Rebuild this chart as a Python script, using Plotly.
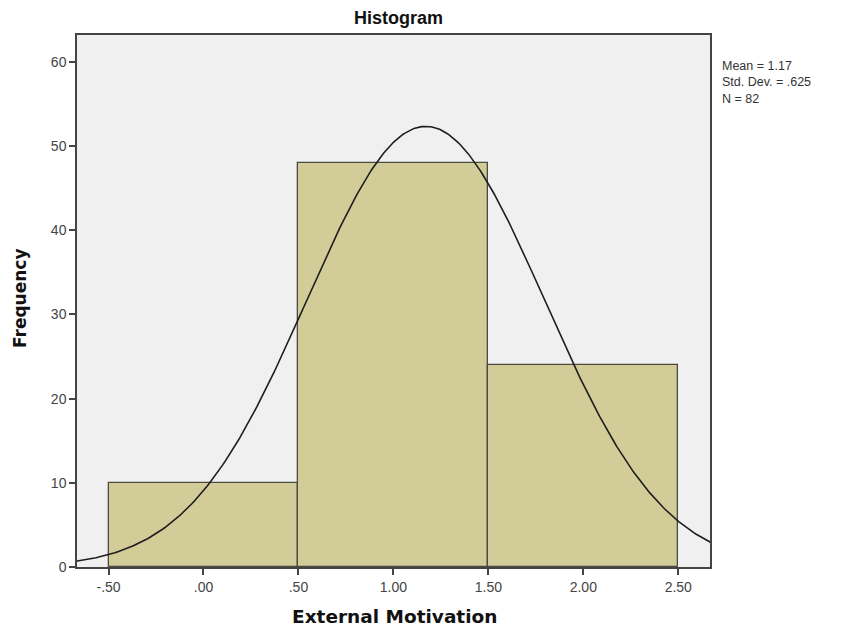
import numpy as np
import plotly.graph_objects as go

# Data
bin_centers = [0.0, 1.0, 2.0]
bin_counts = [10, 48, 24]
bin_width = 1.0
mean_val = 1.17
std_val = 0.625
n_val = 82
x_tickvals = [-0.5, 0.0, 0.5, 1.0, 1.5, 2.0, 2.5]
x_ticktext = ["-.50", ".00", ".50", "1.00", "1.50", "2.00", "2.50"]
y_tickvals = [0, 10, 20, 30, 40, 50, 60]

# Normal curve scaled to counts (from displayed statistics)
xs = np.linspace(-0.8, 2.8, 400)
ys = n_val * bin_width / (std_val * np.sqrt(2 * np.pi)) * np.exp(-0.5 * ((xs - mean_val) / std_val) ** 2)

fig = go.Figure()
fig.add_trace(go.Bar(
    x=bin_centers, y=bin_counts, width=bin_width,
    marker=dict(color="rgb(210,205,152)", line=dict(color="#4a4a40", width=1.3)),
    hoverinfo="skip", showlegend=False,
))
fig.add_trace(go.Scatter(
    x=xs, y=ys, mode="lines", line=dict(color="#1e1e1e", width=1.6),
    hoverinfo="skip", showlegend=False,
))

L, R, T, B = 77, 133, 35, 65
PW, PH = 843 - L - R, 632 - T - B

fig.update_layout(
    width=843, height=632,
    margin=dict(l=L, r=R, t=T, b=B),
    paper_bgcolor="white", plot_bgcolor="#F0F0F0",
    bargap=0,
    font=dict(family="Liberation Sans, Arial, sans-serif", color="#444"),
)
fig.update_xaxes(
    range=[-0.666, 2.667], tickvals=x_tickvals, ticktext=x_ticktext,
    showgrid=False, zeroline=False, showline=True, linecolor="#444", linewidth=1.5,
    mirror=True, ticks="outside", ticklen=6, tickcolor="#444", tickwidth=1.5,
    tickfont=dict(size=14, color="#444"),
)
fig.update_yaxes(
    range=[0, 63.2], tickvals=y_tickvals,
    showgrid=False, zeroline=False, showline=True, linecolor="#444", linewidth=1.5,
    mirror=True, ticks="outside", ticklen=6, tickcolor="#444", tickwidth=1.5,
    tickfont=dict(size=14, color="#444"),
)

def px(x):
    return (x - L) / PW

def py(y):
    return (632 - y - B) / PH

fig.add_annotation(text="<b>Histogram</b>", xref="paper", yref="paper",
                   x=px(398), y=py(18), xanchor="center", yanchor="middle",
                   showarrow=False, font=dict(size=18, color="#111", family="Liberation Sans, Arial, sans-serif"))
fig.add_annotation(text="<b>External Motivation</b>", xref="paper", yref="paper",
                   x=px(394), y=py(616), xanchor="center", yanchor="middle",
                   showarrow=False, font=dict(size=18.5, color="#111", family="DejaVu Sans, sans-serif"))
fig.add_annotation(text="<b>Frequency</b>", xref="paper", yref="paper", textangle=-90,
                   x=px(20), y=py(298), xanchor="center", yanchor="middle",
                   showarrow=False, font=dict(size=17, color="#111", family="DejaVu Sans, sans-serif"))

stat_text = "<br>".join([f"Mean = {mean_val:.2f}", f"Std. Dev. = {str(std_val)[1:]}", f"N = {n_val}"])
fig.add_annotation(text=stat_text, xref="paper", yref="paper", align="left",
                   x=px(720), y=py(82.5), xanchor="left", yanchor="middle",
                   showarrow=False, font=dict(size=12.5, color="#333", family="Liberation Sans, Arial, sans-serif"))

fig.write_html("out.html", config={"displayModeBar": False},
               post_script="document.body.style.margin='0';document.body.style.padding='0';")
